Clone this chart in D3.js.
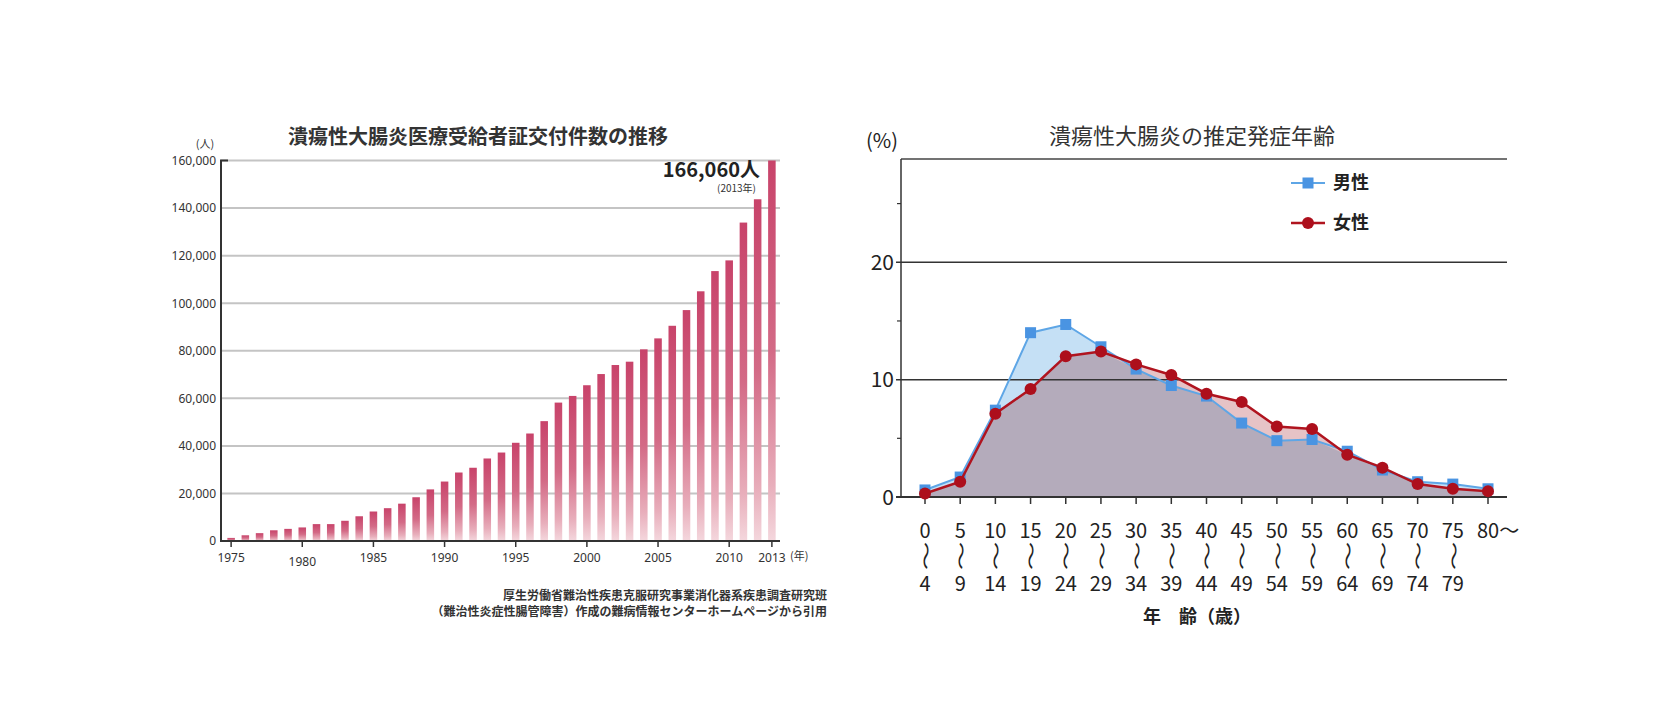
<!DOCTYPE html>
<html>
<head>
<meta charset="utf-8">
<script src="https://cdn.jsdelivr.net/npm/d3@7"></script>
<style>
    body { margin: 0; background: #fff; }
    svg { display: block; font-family: "Noto Sans CJK JP", "Noto Sans", sans-serif; }
</style>
</head>
<body>
<svg id="chart" width="1662" height="719"></svg>
<script>
// left: 受給者証交付件数
var years = [1975, 1976, 1977, 1978, 1979, 1980, 1981, 1982, 1983, 1984, 1985, 1986, 1987,
    1988, 1989, 1990, 1991, 1992, 1993, 1994, 1995, 1996, 1997, 1998, 1999, 2000, 2001,
    2002, 2003, 2004, 2005, 2006, 2007, 2008, 2009, 2010, 2011, 2012, 2013];
var patients = [1300, 2400, 3300, 4500, 5100, 5700, 7100, 7100, 8500, 10400, 12400, 13800, 15700,
    18400, 21700, 25000, 28800, 30800, 34700, 37200, 41300, 45200, 50400, 58200, 61000, 65500, 70200,
    74000, 75400, 80600, 85200, 90500, 97100, 105000, 113500, 118000, 133900, 143700, 166060];
var yearTicks = [1975, 1980, 1985, 1990, 1995, 2000, 2005, 2010, 2013];
var countTicks = [0, 20000, 40000, 60000, 80000, 100000, 120000, 140000, 160000];

// right: 推定発症年齢
var ageFrom = ["0", "5", "10", "15", "20", "25", "30", "35", "40", "45", "50", "55", "60", "65", "70", "75", "80"];
var ageTo = ["4", "9", "14", "19", "24", "29", "34", "39", "44", "49", "54", "59", "64", "69", "74", "79", ""];
var male = [0.6, 1.7, 7.4, 14.0, 14.7, 12.8, 10.9, 9.5, 8.6, 6.3, 4.8, 4.9, 3.9, 2.3, 1.3, 1.1, 0.7];
var female = [0.3, 1.3, 7.1, 9.2, 12.0, 12.4, 11.3, 10.4, 8.8, 8.1, 6.0, 5.8, 3.6, 2.5, 1.1, 0.7, 0.5];
var pctTicks = [0, 10, 20];
var pctMinor = [5, 15, 25];

var svg = d3.select('#chart');

function drawLeft() {
    var g = svg.append('g');
    var x = d3.scaleBand().domain(years).range([224, 779]).paddingInner(0.47).paddingOuter(0.235);
    var y = d3.scaleLinear().domain([0, 160000]).range([541, 160.5]).clamp(true);
    var axisX = 221;

    var grad = svg.append('defs').append('linearGradient')
        .attr('id', 'barGrad').attr('x1', 0).attr('y1', 0).attr('x2', 0).attr('y2', 1);
    [[0, '#c8436a'], [0.5, '#d36a86'], [0.85, '#e8aebb'], [1, '#f4d7dd']].forEach(function (s) {
        grad.append('stop').attr('offset', s[0]).attr('stop-color', s[1]);
    });

    g.append('text')
        .attr('x', 478).attr('y', 144)
        .attr('text-anchor', 'middle')
        .style('font-size', '20px').style('font-weight', 'bold').style('fill', '#333')
        .text('潰瘍性大腸炎医療受給者証交付件数の推移');

    g.selectAll('.grid')
        .data(countTicks.slice(1))
        .enter().append('line')
        .attr('class', 'grid')
        .attr('x1', axisX).attr('x2', 780)
        .attr('y1', function (d) { return y(d); })
        .attr('y2', function (d) { return y(d); })
        .style('stroke', '#c4c4c4').style('stroke-width', 2);

    g.selectAll('.bar')
        .data(years)
        .enter().append('rect')
        .attr('class', 'bar')
        .attr('x', function (d) { return x(d); })
        .attr('width', x.bandwidth())
        .attr('y', function (d, i) { return y(patients[i]); })
        .attr('height', function (d, i) { return y(0) - y(patients[i]); })
        .style('fill', 'url(#barGrad)');

    var yAxis = g.append('g')
        .attr('transform', 'translate(' + axisX + ',0)')
        .call(d3.axisLeft(y).tickValues(countTicks).tickSize(0).tickPadding(5).tickFormat(d3.format(',')));
    yAxis.select('.domain').remove();
    yAxis.selectAll('text').style('font-size', '12px').style('fill', '#333').style('font-family', '"Noto Sans", sans-serif');

    g.append('path')
        .attr('d', 'M' + (axisX + 7) + ',' + y(160000) + 'H' + axisX + 'V' + y(0) + 'H780')
        .style('fill', 'none').style('stroke', '#333').style('stroke-width', 2);

    var xAxis = g.append('g')
        .attr('transform', 'translate(0,' + y(0) + ')')
        .call(d3.axisBottom(x).tickValues(yearTicks).tickSize(6).tickPadding(5));
    xAxis.select('.domain').remove();
    xAxis.selectAll('line').style('stroke', '#333').style('stroke-width', 1.5);
    xAxis.selectAll('text')
        .style('font-size', '12px').style('fill', '#333').style('font-family', '"Noto Sans", sans-serif')
        .attr('dy', function (d) { return d === 1980 ? '1.15em' : '0.8em'; });

    g.append('text').attr('x', 205).attr('y', 148).attr('text-anchor', 'middle')
        .style('font-size', '11px').style('fill', '#333').text('(人)');
    g.append('text').attr('x', 790).attr('y', 560)
        .style('font-size', '11px').style('fill', '#333').text('(年)');

    g.append('text').attr('x', 760).attr('y', 177).attr('text-anchor', 'end')
        .style('font-size', '20px').style('font-weight', 'bold').style('fill', '#222')
        .text(d3.format(',')(patients[patients.length - 1]) + '人');
    g.append('text').attr('x', 756).attr('y', 192).attr('text-anchor', 'end')
        .style('font-size', '10px').style('fill', '#333').text('(2013年)');

    g.append('text').attr('x', 827).attr('y', 600).attr('text-anchor', 'end')
        .style('font-size', '12px').style('font-weight', 'bold').style('fill', '#333')
        .text('厚生労働省難治性疾患克服研究事業消化器系疾患調査研究班');
    g.append('text').attr('x', 827).attr('y', 616).attr('text-anchor', 'end')
        .style('font-size', '12px').style('font-weight', 'bold').style('fill', '#333')
        .text('（難治性炎症性腸管障害）作成の難病情報センターホームページから引用');
}

function drawRight() {
    var g = svg.append('g');
    var left = 901, right = 1507;
    var x = d3.scalePoint().domain(d3.range(ageFrom.length)).range([925, 1488]);
    var y = d3.scaleLinear().domain([0, 28.8]).range([497, 159]);

    g.append('text')
        .attr('x', 1192).attr('y', 144).attr('text-anchor', 'middle')
        .style('font-size', '22px').style('fill', '#333')
        .text('潰瘍性大腸炎の推定発症年齢');
    g.append('text').attr('x', 882).attr('y', 148).attr('text-anchor', 'middle')
        .style('font-size', '20px').style('fill', '#222').text('(%)');

    function area(vals) {
        return d3.area()
            .x(function (d, i) { return x(i); })
            .y0(y(0))
            .y1(function (d) { return y(d); })(vals);
    }
    var overlap = male.map(function (d, i) { return Math.min(d, female[i]); });
    g.append('path').attr('d', area(male)).style('fill', '#c5e0f5');
    g.append('path').attr('d', area(female)).style('fill', '#e6c3c6');
    g.append('path').attr('d', area(overlap)).style('fill', '#b4abbb');

    // frame + grid
    g.append('line').attr('x1', left).attr('x2', right).attr('y1', y.range()[1]).attr('y2', y.range()[1])
        .style('stroke', '#444').style('stroke-width', 1.5);
    g.selectAll('.pgrid')
        .data(pctTicks.slice(1))
        .enter().append('line')
        .attr('class', 'pgrid')
        .attr('x1', left - 5).attr('x2', right)
        .attr('y1', function (d) { return y(d); })
        .attr('y2', function (d) { return y(d); })
        .style('stroke', '#333').style('stroke-width', 1.5);
    g.selectAll('.minor')
        .data(pctMinor)
        .enter().append('line')
        .attr('class', 'minor')
        .attr('x1', left - 4).attr('x2', left)
        .attr('y1', function (d) { return y(d); })
        .attr('y2', function (d) { return y(d); })
        .style('stroke', '#333').style('stroke-width', 1.2);
    g.append('line').attr('x1', left).attr('x2', left).attr('y1', y.range()[1]).attr('y2', y(0))
        .style('stroke', '#333').style('stroke-width', 1.5);
    g.append('line').attr('x1', left - 5).attr('x2', right).attr('y1', y(0)).attr('y2', y(0))
        .style('stroke', '#333').style('stroke-width', 2);

    g.selectAll('.ylab')
        .data(pctTicks)
        .enter().append('text')
        .attr('class', 'ylab')
        .attr('x', left - 7)
        .attr('y', function (d) { return y(d); })
        .attr('dy', '0.36em')
        .attr('text-anchor', 'end')
        .style('font-size', '21px').style('fill', '#222')
        .text(function (d) { return d; });

    // x ticks and labels
    g.selectAll('.xtick')
        .data(ageFrom)
        .enter().append('line')
        .attr('class', 'xtick')
        .attr('x1', function (d, i) { return x(i); })
        .attr('x2', function (d, i) { return x(i); })
        .attr('y1', y(0)).attr('y2', y(0) + 7)
        .style('stroke', '#333').style('stroke-width', 1.5);
    g.selectAll('.xfrom')
        .data(ageFrom)
        .enter().append('text')
        .attr('class', 'xfrom')
        .attr('x', function (d, i) { return i === ageFrom.length - 1 ? x(i) - 11 : x(i); })
        .attr('y', 538)
        .attr('text-anchor', function (d, i) { return i === ageFrom.length - 1 ? 'start' : 'middle'; })
        .style('font-size', '20px').style('fill', '#222')
        .text(function (d, i) { return i === ageFrom.length - 1 ? d + '〜' : d; });
    g.selectAll('.xwave')
        .data(ageTo.filter(function (d) { return d !== ''; }))
        .enter().append('text')
        .attr('class', 'xwave')
        .attr('transform', function (d, i) { return 'translate(' + x(i) + ',556) rotate(90) scale(1.6,1)'; })
        .attr('text-anchor', 'middle')
        .attr('dy', '0.35em')
        .style('font-size', '18px').style('fill', '#222')
        .text('〜');
    g.selectAll('.xto')
        .data(ageTo)
        .enter().append('text')
        .attr('class', 'xto')
        .attr('x', function (d, i) { return x(i); })
        .attr('y', 591)
        .attr('text-anchor', 'middle')
        .style('font-size', '20px').style('fill', '#222')
        .text(function (d) { return d; });
    g.append('text').attr('x', 1197).attr('y', 623).attr('text-anchor', 'middle')
        .style('font-size', '18px').style('font-weight', 'bold').style('fill', '#222')
        .text('年　齢（歳）');

    // lines + markers
    var line = d3.line().x(function (d, i) { return x(i); }).y(function (d) { return y(d); });
    g.append('path').attr('d', line(male))
        .style('fill', 'none').style('stroke', '#5ea6e6').style('stroke-width', 2);
    g.selectAll('.msq')
        .data(male)
        .enter().append('rect')
        .attr('class', 'msq')
        .attr('x', function (d, i) { return x(i) - 5.5; })
        .attr('y', function (d) { return y(d) - 5.5; })
        .attr('width', 11).attr('height', 11)
        .style('fill', '#4a94e2');
    g.append('path').attr('d', line(female))
        .style('fill', 'none').style('stroke', '#b0141f').style('stroke-width', 2.5);
    g.selectAll('.fdot')
        .data(female)
        .enter().append('circle')
        .attr('class', 'fdot')
        .attr('cx', function (d, i) { return x(i); })
        .attr('cy', function (d) { return y(d); })
        .attr('r', 6)
        .style('fill', '#ad0f1c');

    // legend
    var lg = g.append('g').attr('transform', 'translate(1291,183)');
    lg.append('line').attr('x1', 0).attr('x2', 34).style('stroke', '#5ea6e6').style('stroke-width', 2);
    lg.append('rect').attr('x', 11.5).attr('y', -5.5).attr('width', 11).attr('height', 11).style('fill', '#4a94e2');
    lg.append('text').attr('x', 42).attr('dy', '0.36em')
        .style('font-size', '18px').style('font-weight', 'bold').style('fill', '#222').text('男性');
    lg.append('line').attr('x1', 0).attr('x2', 34).attr('y1', 40).attr('y2', 40)
        .style('stroke', '#b0141f').style('stroke-width', 2.5);
    lg.append('circle').attr('cx', 17).attr('cy', 40).attr('r', 6).style('fill', '#ad0f1c');
    lg.append('text').attr('x', 42).attr('y', 40).attr('dy', '0.36em')
        .style('font-size', '18px').style('font-weight', 'bold').style('fill', '#222').text('女性');
}

drawLeft();
drawRight();
</script>
</body>
</html>
